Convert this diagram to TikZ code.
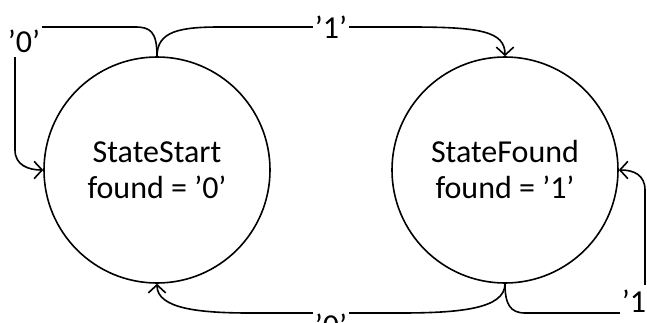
\documentclass[tikz,border=0pt]{standalone}
\usepackage{fontspec}
\setmainfont{Carlito}
\usetikzlibrary{arrows.meta}

\begin{document}
\begin{tikzpicture}[x=0.75pt, y=-0.75pt,
    state/.style={circle, draw, line width=1.2pt, minimum size=169.5pt, align=center, font=\fontsize{24}{27}\selectfont},
    trans/.style={line width=1.2pt, -{Straight Barb[length=6pt, width=13pt, line width=1.2pt]}},
    lbl/.style={fill=white, inner sep=0pt, minimum width=27pt, minimum height=24pt, font=\fontsize{24}{27}\selectfont}]
    \useasboundingbox (0,0) rectangle (647,322);
    % States
    \node[state] (start) at (157,170) {StateStart\\found = ’0’};
    \node[state] (found) at (505,170) {StateFound\\found = ’1’};
    % Start -> Start
    \draw[trans] (start.north) .. controls +(0,-25) and +(15,0) .. (135,27) -- (15,27) -- (15,150) .. controls +(0,15) and +(-15,0) .. (start.west);
    \node[lbl] (zeroa) at (24,41) {’0’};
    % Start -> Found
    \draw[trans] (start.north) .. controls +(0,-25) and +(-40,0) .. (220,27) -- (410,27) .. controls +(70,0) and +(0,-25) .. (found.north);
    \node[lbl] (onea) at (331,27) {’1’};
    % Found -> Start
    \draw[trans] (found.south) .. controls +(0,25) and +(60,0) .. (400,313) -- (250,313) .. controls +(-50,0) and +(0,25) .. (start.south);
    \node[lbl] (zerob) at (331,325) {’0’};
    % Found -> Found
    \draw[trans] (found.south) .. controls +(0,20) and +(-15,0) .. (525,313) -- (645,313) -- (645,190) .. controls +(0,-15) and +(15,0) .. (found.east);
    \node[lbl] (oneb) at (638,301) {’1’};
\end{tikzpicture}
\end{document}
